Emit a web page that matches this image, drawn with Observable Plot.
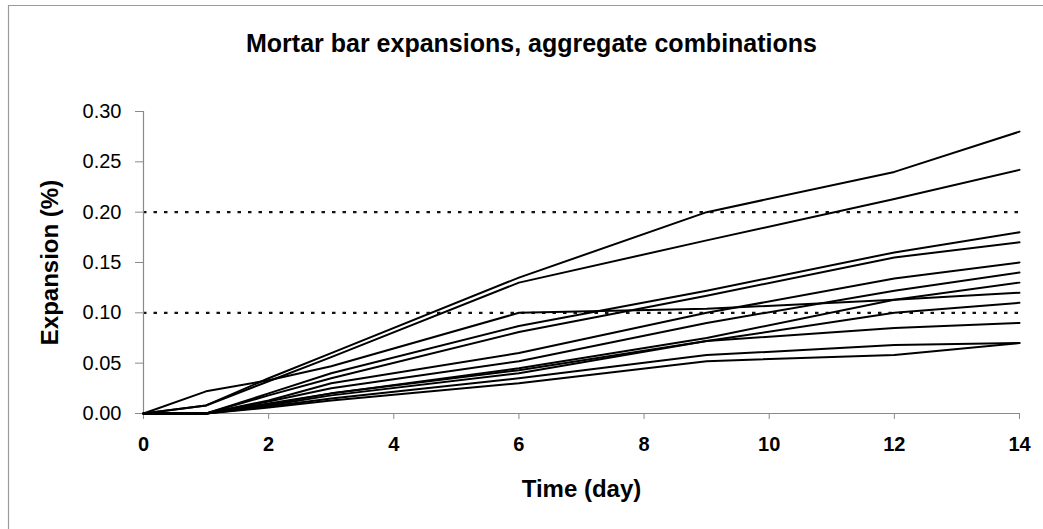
<!DOCTYPE html>
<html>
<head>
<meta charset="utf-8">
<script src="https://cdn.jsdelivr.net/npm/d3@7"></script>
<script src="https://cdn.jsdelivr.net/npm/@observablehq/plot@0.6"></script>
<style>
  body { margin: 0; background: #fff; }
</style>
</head>
<body>
<div id="chart"></div>
<script>
// Measurement days shared by every mortar bar series
const days = [0, 1, 2, 3, 6, 9, 12, 14];

// Expansion (%) of each aggregate combination on those days
const mixA = [0, 0.008, 0.035, 0.060, 0.135, 0.200, 0.240, 0.280];
const mixB = [0, 0.008, 0.032, 0.056, 0.130, 0.172, 0.213, 0.242];
const mixC = [0, 0.000, 0.020, 0.040, 0.087, 0.122, 0.160, 0.180];
const mixD = [0, 0.000, 0.018, 0.035, 0.081, 0.117, 0.155, 0.170];
const mixE = [0, 0.000, 0.013, 0.030, 0.060, 0.100, 0.134, 0.150];
const mixF = [0, 0.000, 0.012, 0.025, 0.052, 0.090, 0.122, 0.140];
const mixG = [0, 0.000, 0.010, 0.020, 0.045, 0.075, 0.113, 0.130];
const mixH = [0, 0.022, 0.033, 0.047, 0.100, 0.104, 0.113, 0.120];
const mixI = [0, 0.000, 0.009, 0.020, 0.043, 0.072, 0.100, 0.110];
const mixJ = [0, 0.000, 0.008, 0.018, 0.040, 0.072, 0.085, 0.090];
const mixK = [0, 0.000, 0.007, 0.015, 0.035, 0.058, 0.068, 0.070];
const mixL = [0, 0.000, 0.006, 0.013, 0.030, 0.052, 0.058, 0.070];

const seriesNames = ["A", "B", "C", "D", "E", "F", "G", "H", "I", "J", "K", "L"];
const seriesValues = [mixA, mixB, mixC, mixD, mixE, mixF, mixG, mixH, mixI, mixJ, mixK, mixL];

// Axis ticks and the dotted expansion limits
const xTicks = [0, 2, 4, 6, 8, 10, 12, 14];
const yTicks = [0, 0.05, 0.10, 0.15, 0.20, 0.25, 0.30];
const limitLines = [0.10, 0.20];

const titleText = "Mortar bar expansions, aggregate combinations";
const xLabel = "Time (day)";
const yLabel = "Expansion (%)";

// Long-format table for the line mark
const rows = seriesValues.flatMap((vals, i) =>
  vals.map((v, j) => ({ series: seriesNames[i], day: days[j], expansion: v }))
);

const axisGrey = "#8a8a8a";

const chart = Plot.plot({
  width: 1043,
  height: 529,
  marginLeft: 143,
  marginRight: 24,
  marginTop: 111,
  marginBottom: 116,
  style: { fontFamily: "'Liberation Sans', Arial, sans-serif", background: "#fff", color: "#000", overflow: "visible" },
  x: { domain: [0, 14] },
  y: { domain: [0, 0.30] },
  marks: [
    // dotted limit lines
    Plot.ruleY(limitLines, { stroke: "#111", strokeWidth: 2.4, strokeDasharray: "3.5,7" }),
    // axis lines
    Plot.ruleX([0], { stroke: axisGrey, strokeWidth: 1.2 }),
    Plot.ruleY([0], { stroke: axisGrey, strokeWidth: 1.2 }),
    Plot.axisY({
      ticks: yTicks, tickFormat: d3.format(".2f"), tickSize: 8, tickPadding: 14,
      stroke: axisGrey, fontSize: 20, label: null
    }),
    Plot.axisX({
      ticks: xTicks, tickFormat: d3.format("d"), tickSize: 6, tickPadding: 17,
      stroke: axisGrey, fontSize: 20, fontWeight: "bold", label: null
    }),
    // one line per aggregate combination
    Plot.line(rows, { x: "day", y: "expansion", z: "series", stroke: "#000", strokeWidth: 2 }),
    // titles
    Plot.text([titleText], {
      frameAnchor: "top-left", dx: 388, dy: -77, textAnchor: "middle",
      fontSize: 25, fontWeight: "bold"
    }),
    Plot.text([xLabel], {
      frameAnchor: "bottom", dy: 83, textAnchor: "middle", fontSize: 24, fontWeight: "bold"
    }),
    Plot.text([yLabel], {
      frameAnchor: "left", dx: -93, rotate: -90, textAnchor: "middle", fontSize: 24, fontWeight: "bold"
    })
  ]
});

// outer chart-area border (top and left edges)
d3.select(chart).append("path")
  .attr("d", "M8.5,529 L8.5,5.5 L1043,5.5")
  .attr("fill", "none")
  .attr("stroke", "#9a9a9a")
  .attr("stroke-width", 1.2);

document.getElementById("chart").appendChild(chart);
</script>
</body>
</html>
